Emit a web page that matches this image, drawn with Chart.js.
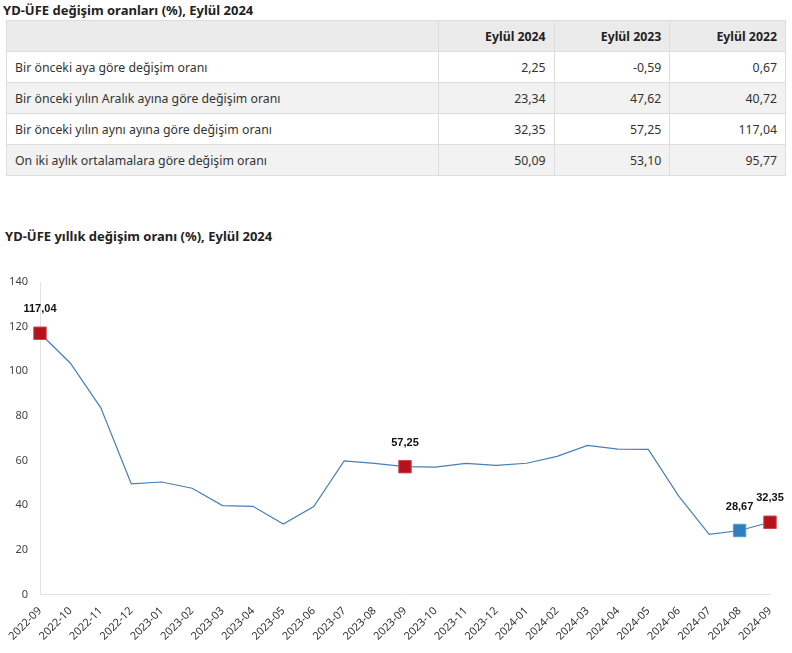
<!DOCTYPE html>
<html><head><meta charset="utf-8">
<script src="https://cdn.jsdelivr.net/npm/chart.js@4.4.1/dist/chart.umd.min.js"></script>
<style>
body{margin:0;background:#fff;font-family:"Noto Sans",sans-serif;color:#333;width:792px;height:653px;overflow:hidden;position:relative}
.t1{position:absolute;left:3px;top:1px;font-weight:bold;font-size:13px;color:#222;}
table{position:absolute;left:6px;top:20px;width:780px;border-collapse:collapse;font-size:12.3px;}
td,th{border:1px solid #ddd;padding:0 8px;height:30px;}
th{background:#ebebeb;text-align:right;font-weight:bold;color:#222}
td{text-align:right}
td:first-child{text-align:left}
tr.alt td{background:#f2f2f2}
.t2{position:absolute;left:5px;top:227px;font-weight:bold;font-size:13px;color:#222;}
#wrap{position:absolute;left:0;top:262px;width:792px;height:391px}
</style></head><body>
<div class="t1">YD-ÜFE değişim oranları (%), Eylül 2024</div>
<table id="tbl"></table>
<div class="t2">YD-ÜFE yıllık değişim oranı (%), Eylül 2024</div>
<div id="wrap"><canvas id="c"></canvas></div>
<script>
const tableCols = ["Eylül 2024","Eylül 2023","Eylül 2022"];
const tableRows = ["Bir önceki aya göre değişim oranı","Bir önceki yılın Aralık ayına göre değişim oranı","Bir önceki yılın aynı ayına göre değişim oranı","On iki aylık ortalamalara göre değişim oranı"];
const tableVals = [["2,25","-0,59","0,67"],["23,34","47,62","40,72"],["32,35","57,25","117,04"],["50,09","53,10","95,77"]];

const months = ["2022-09","2022-10","2022-11","2022-12","2023-01","2023-02","2023-03","2023-04","2023-05","2023-06","2023-07","2023-08","2023-09","2023-10","2023-11","2023-12","2024-01","2024-02","2024-03","2024-04","2024-05","2024-06","2024-07","2024-08","2024-09"];
const values = [117.04,103.6,83.6,49.6,50.4,47.6,39.8,39.5,31.6,39.4,59.8,58.7,57.25,57.1,58.7,57.8,58.8,61.9,66.8,65.1,65.0,44.1,26.9,28.67,32.35];
const redPoints = [0,12,24];
const bluePoints = [23];
const yTicks = [0,20,40,60,80,100,120,140];

// build table
let h = '<tr><th style="width:415px"></th>' + tableCols.map(c=>'<th>'+c+'</th>').join('') + '</tr>';
tableRows.forEach((r,i)=>{ h += '<tr class="'+(i%2?'alt':'')+'"><td>'+r+'</td>'+tableVals[i].map(v=>'<td>'+v+'</td>').join('')+'</tr>'; });
document.getElementById('tbl').innerHTML = h;

const marked = i => redPoints.includes(i) || bluePoints.includes(i);
const fmt = v => v.toFixed(2).replace('.',',');

const labelPlugin = {
  id:'lbl',
  afterDatasetsDraw(chart){
    const ctx = chart.ctx, meta = chart.getDatasetMeta(0);
    ctx.save();
    ctx.font = 'bold 11px "Liberation Sans", Arial, sans-serif';
    ctx.fillStyle = '#111';
    ctx.textAlign = 'center'; ctx.textBaseline='middle';
    meta.data.forEach((p,i)=>{ if(marked(i)) ctx.fillText(fmt(values[i]), p.x, p.y-24); });
    ctx.restore();
  }
};

new Chart(document.getElementById('c'), {
  type:'line',
  data:{labels:months, datasets:[{
    data:values,
    borderColor:'#4a7fb2', borderWidth:1.2, tension:0,
    pointStyle:'rect',
    pointRadius: values.map((v,i)=>marked(i)?8.8:0),
    pointHoverRadius: values.map((v,i)=>marked(i)?8.8:0),
    pointBackgroundColor: values.map((v,i)=>bluePoints.includes(i)?'#2f7ec0':'#b5121b'),
    pointBorderColor: values.map((v,i)=>bluePoints.includes(i)?'#5b9bd0':'#c94a50'),
    pointBorderWidth:1
  }]},
  options:{
    responsive:true, maintainAspectRatio:false, animation:false,
    layout:{padding:{top:20,right:22,left:0,bottom:0}},
    plugins:{legend:{display:false},tooltip:{enabled:false}},
    scales:{
      x:{offset:false, grid:{display:false, drawTicks:false}, border:{color:'#e3e3e3'},
        ticks:{autoSkip:false, maxRotation:45, minRotation:45, color:'#333', padding:10,
          font:{family:'"Noto Sans", sans-serif', size:11}}},
      y:{min:0,max:140, afterBuildTicks(s){s.ticks = yTicks.map(v=>({value:v}));},
        afterFit(s){s.width=40;},
        grid:{display:false, drawTicks:false}, border:{color:'#e3e3e3'},
        ticks:{color:'#444', padding:12, font:{family:'"Noto Sans", sans-serif', size:11}}}
    }
  },
  plugins:[labelPlugin]
});
</script>
</body></html>
